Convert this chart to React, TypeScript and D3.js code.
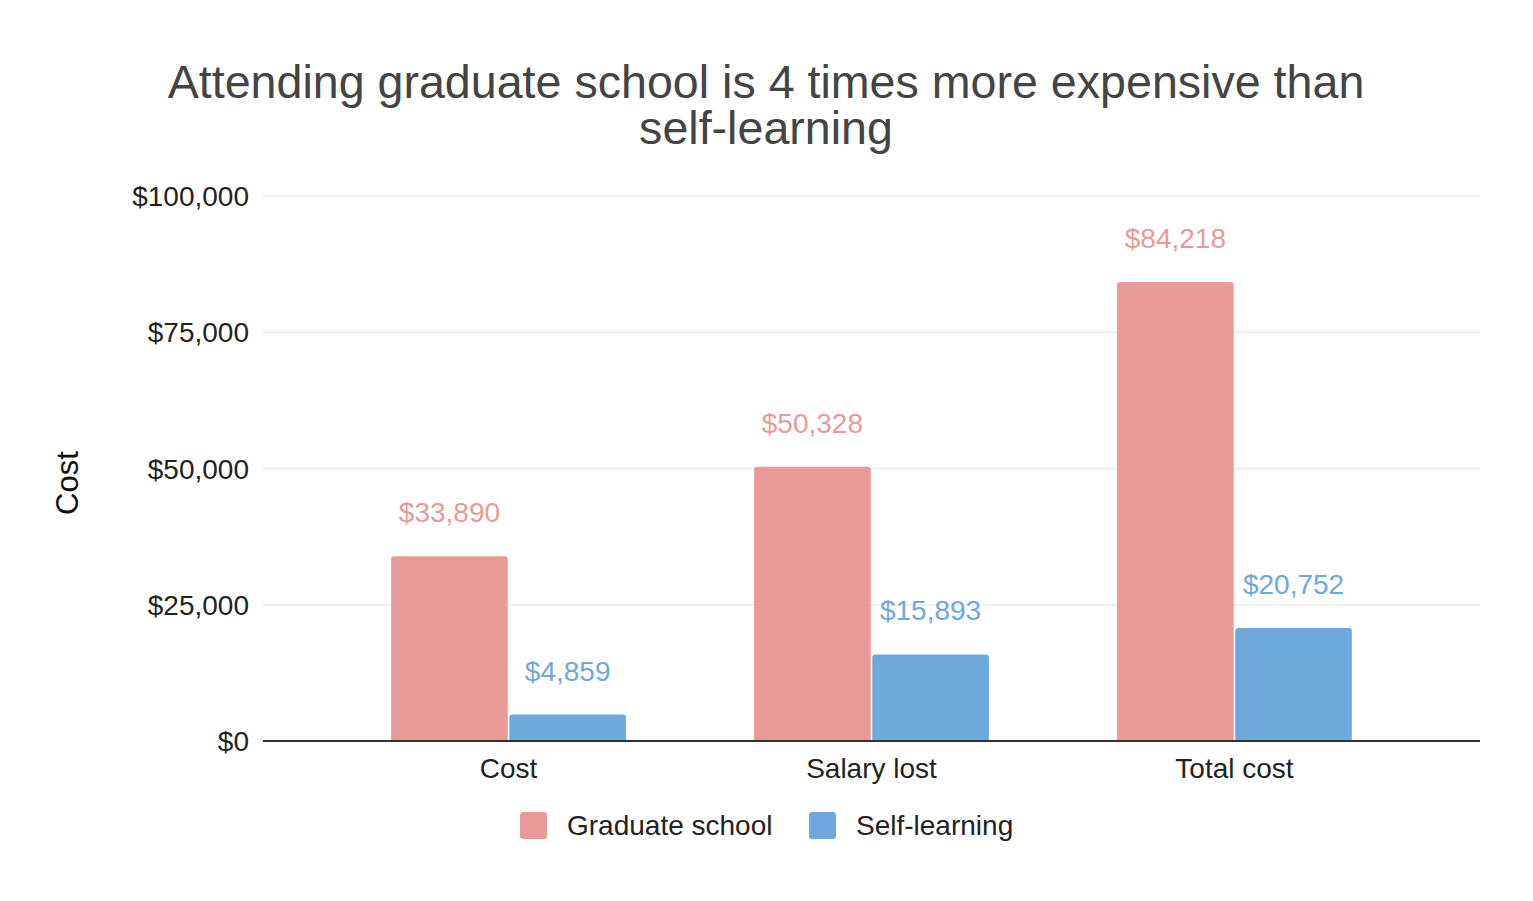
import React from "react";
import * as d3 from "d3";

const categories = ["Cost", "Salary lost", "Total cost"];
const seriesNames = ["Graduate school", "Self-learning"];
const gradValues = [33890, 50328, 84218];
const selfValues = [4859, 15893, 20752];
const yTicks = [0, 25000, 50000, 75000, 100000];
const seriesColors = ["#ea9999", "#6fa8dc"];
const titleLines = ["Attending graduate school is 4 times more expensive than", "self-learning"];

const W = 1533;
const H = 901;
const FONT = "'Liberation Sans', Arial, sans-serif";

export default function App() {
  const x0 = d3.scaleBand<string>().domain(categories).range([263, 1480]).padding(0.353);
  const x1 = d3.scaleBand<string>().domain(seriesNames).range([0, x0.bandwidth()]).paddingInner(0.013);
  const y = d3.scaleLinear().domain([0, 100000]).range([741, 196]);
  const fmt = (v: number) => "$" + d3.format(",")(v);
  const series = [gradValues, selfValues];
  const r = 3;

  const barPath = (x: number, yTop: number, w: number, yBot: number) => {
    const p = d3.path();
    p.moveTo(x, yBot);
    p.lineTo(x, yTop + r);
    p.arcTo(x, yTop, x + r, yTop, r);
    p.lineTo(x + w - r, yTop);
    p.arcTo(x + w, yTop, x + w, yTop + r, r);
    p.lineTo(x + w, yBot);
    p.closePath();
    return p.toString();
  };

  return (
    <svg width={W} height={H} style={{ position: "absolute", left: 0, top: 0, background: "#fff" }} fontFamily={FONT}>
      {titleLines.map((t, i) => (
        <text key={i} x={766} y={98 + i * 46} textAnchor="middle" fontSize={46.6} fill="#444444">
          {t}
        </text>
      ))}
      {yTicks.map((t) => (
        <g key={t}>
          {t !== 0 && <line x1={263} x2={1480} y1={y(t)} y2={y(t)} stroke="#ececec" strokeWidth={1.5} />}
          <text x={249} y={y(t) + 10} textAnchor="end" fontSize={28} fill="#222">
            {fmt(t)}
          </text>
        </g>
      ))}
      <text transform={`translate(78,483) rotate(-90)`} textAnchor="middle" fontSize={31} fill="#111">
        Cost
      </text>
      {categories.map((c, ci) => (
        <g key={c} transform={`translate(${x0(c)},0)`}>
          {seriesNames.map((s, si) => {
            const v = series[si][ci];
            const bx = x1(s)!;
            const bw = x1.bandwidth();
            return (
              <g key={s}>
                <path d={barPath(bx, y(v), bw, y(0))} fill={seriesColors[si]} />
                <text x={bx + bw / 2} y={y(v) - 34} textAnchor="middle" fontSize={28} fill={seriesColors[si]}>
                  {fmt(v)}
                </text>
              </g>
            );
          })}
          <text x={x0.bandwidth() / 2} y={778} textAnchor="middle" fontSize={28} fill="#222">
            {c}
          </text>
        </g>
      ))}
      <line x1={263} x2={1480} y1={y(0)} y2={y(0)} stroke="#333" strokeWidth={2} />
      {seriesNames.map((s, i) => {
        const lx = [520, 809][i];
        return (
          <g key={s}>
            <rect x={lx} y={812} width={27} height={27} rx={3} fill={seriesColors[i]} />
            <text x={lx + 47} y={835} fontSize={28} fill="#222">
              {s}
            </text>
          </g>
        );
      })}
    </svg>
  );
}
